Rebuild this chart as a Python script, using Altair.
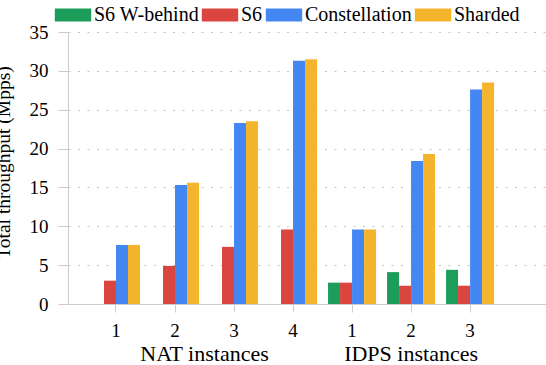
import altair as alt
import pandas as pd

categories = ["NAT 1", "NAT 2", "NAT 3", "NAT 4", "IDPS 1", "IDPS 2", "IDPS 3"]
series = ["S6 W-behind", "S6", "Constellation", "Sharded"]
colors = ["#1c9d5a", "#db4540", "#4487f3", "#f4b42c"]
w_behind = [None, None, None, None, 2.75, 4.1, 4.4]
s6 = [3.0, 4.9, 7.35, 9.6, 2.75, 2.35, 2.35]
constellation = [7.6, 15.3, 23.3, 31.3, 9.6, 18.4, 27.6]
sharded = [7.6, 15.6, 23.5, 31.5, 9.6, 19.3, 28.5]
group_labels = ["NAT instances", "IDPS instances"]
group_anchor = ["NAT 2", "IDPS 2"]
y_ticks = [0, 5, 10, 15, 20, 25, 30, 35]

rows = []
for name, vals in zip(series, [w_behind, s6, constellation, sharded]):
    for c, v in zip(categories, vals):
        if v is not None:
            rows.append({"cat": c, "series": name, "value": v})
df = pd.DataFrame(rows)

FONT = "Liberation Serif"

xscale = alt.Scale(domain=categories, paddingInner=0.186, paddingOuter=0.643, align=0.316)

bars = alt.Chart(df).mark_bar().encode(
    x=alt.X("cat:N", scale=xscale,
            axis=alt.Axis(title=None, labelAngle=0, labelExpr="split(datum.label, ' ')[1]",
                          tickSize=8, tickColor="#cccccc", domainColor="#cccccc",
                          labelPadding=9, labelFont=FONT, labelFontSize=19, labelColor="black",
                          grid=False)),
    xOffset=alt.XOffset("series:N", scale=alt.Scale(domain=series, paddingInner=0, paddingOuter=0)),
    y=alt.Y("value:Q", scale=alt.Scale(domain=[0, 35], nice=False),
            axis=alt.Axis(values=y_ticks, title="Total throughput (Mpps)", grid=True,
                          gridDash=[2, 7.5], gridColor="#c4c4c4", domainColor="#cccccc",
                          tickColor="#cccccc", tickSize=10, labelPadding=10,
                          labelFont=FONT, labelFontSize=19, labelColor="black",
                          titleFont=FONT, titleFontSize=19.5, titleFontWeight="normal",
                          titleColor="black", titleX=-59, titleY=130, titleAlign="center",
                          titleBaseline="alphabetic")),
    color=alt.Color("series:N", scale=alt.Scale(domain=series, range=colors),
                    legend=alt.Legend(orient="none", legendX=-8, legendY=-30,
                                      direction="horizontal", title=None,
                                      symbolType="M-1.4,-0.5H1.4V0.5H-1.4Z", symbolSize=676,
                                      symbolStrokeWidth=0, symbolOpacity=1,
                                      labelFont=FONT, labelFontSize=20, labelColor="black",
                                      labelOffset=8, columnPadding=2, labelLimit=0)),
)

gl = pd.DataFrame({"cat": group_anchor, "label": group_labels})
nat_text = alt.Chart(gl.iloc[[0]]).mark_text(
    font=FONT, fontSize=22, color="black", baseline="alphabetic", dx=29.5
).encode(x=alt.X("cat:N", scale=xscale), y=alt.value(329), text="label:N")
idps_text = alt.Chart(gl.iloc[[1]]).mark_text(
    font=FONT, fontSize=22, color="black", baseline="alphabetic"
).encode(x=alt.X("cat:N", scale=xscale), y=alt.value(329), text="label:N")

chart = alt.layer(bars, nat_text, idps_text).properties(
    width=478, height=272,
    autosize=alt.AutoSizeParams(type="none"),
    padding={"left": 68, "top": 32, "right": 0, "bottom": 61},
    background="white",
).configure_view(stroke=None)

chart.save("out.html", embed_options={"renderer": "svg", "actions": False})
